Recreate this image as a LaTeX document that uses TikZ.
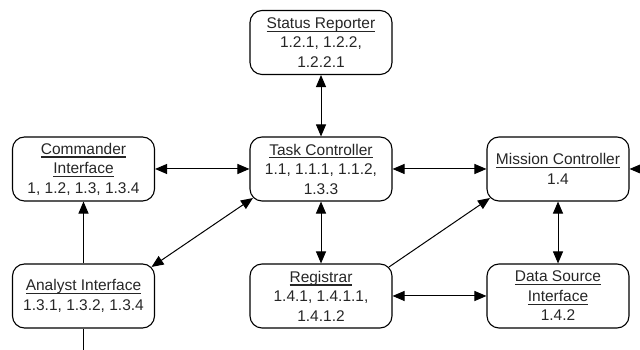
\documentclass[tikz,border=0pt]{standalone}
\usepackage{fontspec}
\setmainfont{Liberation Sans}
\usetikzlibrary{arrows.meta,calc}
\newcommand\myul[1]{\setbox0\hbox{#1}\rlap{\rule[-3.4pt]{\wd0}{1.2pt}}\box0}
\begin{document}
\begin{tikzpicture}[x=1pt,y=1pt,
  box/.style={draw,line width=1.1pt,rounded corners=12pt,minimum width=142pt,minimum height=64pt,
    inner sep=0pt,align=center,font=\fontsize{15.5}{19.5}\selectfont,text=black!85},
  conn/.style={line width=1pt,-{Triangle[length=12pt,width=10pt]}},
  bconn/.style={line width=1pt,{Triangle[length=12pt,width=10pt]}-{Triangle[length=12pt,width=10pt]}}]
\useasboundingbox (0,0) rectangle (640,350);
\node[box] (status) at (321,307.5) {\myul{Status Reporter}\\1.2.1, 1.2.2,\\1.2.2.1};
\node[box] (cmd) at (83.5,181) {\myul{Commander}\\\myul{Interface}\\1, 1.2, 1.3, 1.3.4};
\node[box] (task) at (321,181) {\myul{Task Controller}\\1.1, 1.1.1, 1.1.2,\\1.3.3};
\node[box] (mission) at (558,181) {\myul{Mission Controller}\\1.4};
\node[box] (analyst) at (83.5,54) {\myul{Analyst Interface}\\1.3.1, 1.3.2, 1.3.4};
\node[box] (reg) at (321,54) {\myul{Registrar}\\1.4.1, 1.4.1.1,\\1.4.1.2};
\node[box] (data) at (558,54) {\myul{Data Source}\\\myul{Interface}\\1.4.2};
\coordinate (rightin) at (642,181);
\coordinate (bottomout) at (83.5,-2);
\draw[bconn] (status) -- (task);
\draw[bconn] (cmd) -- (task);
\draw[bconn] (task) -- (mission);
\draw[conn] (rightin) -- (mission.east);
\draw[bconn] (mission) -- (data);
\draw[bconn] (task) -- (reg);
\draw[bconn] (reg) -- (data);
\draw[conn] (analyst) -- (cmd);
\draw[line width=1pt] (analyst) -- (bottomout);
\draw[bconn] ([shift={(-3.5,-3.5)}]analyst.north east) -- ([shift={(3.5,3.5)}]task.south west);
\draw[conn] ([shift={(-3.5,-3.5)}]reg.north east) -- ([shift={(3.5,3.5)}]mission.south west);
\end{tikzpicture}
\end{document}
